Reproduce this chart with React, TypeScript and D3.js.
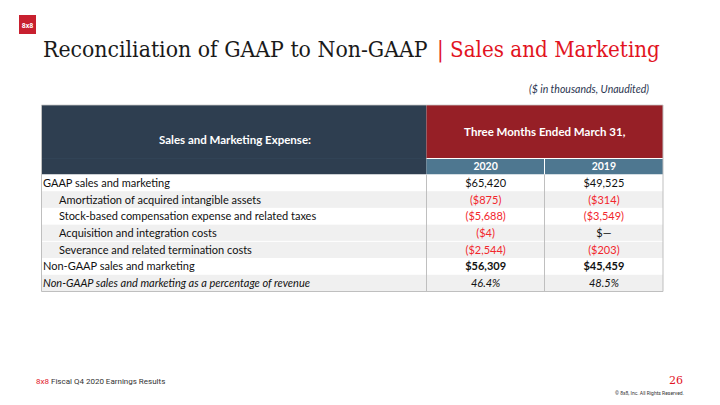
import React, { useLayoutEffect, useRef, useState } from "react";
import * as d3 from "d3";

const rowLabels = [
  "GAAP sales and marketing",
  "Amortization of acquired intangible assets",
  "Stock-based compensation expense and related taxes",
  "Acquisition and integration costs",
  "Severance and related termination costs",
  "Non-GAAP sales and marketing",
  "Non-GAAP sales and marketing as a percentage of revenue",
];
const rowIndent = [false, true, true, true, true, false, false];
const rowKind = ["total", "adj", "adj", "adj", "adj", "bold", "pct"];
const rowShade = [false, true, false, true, true, false, true];
const years = ["2020", "2019"];
const values2020 = [65420, -875, -5688, -4, -2544, 56309, 0.464];
const values2019 = [49525, -314, -3549, 0, -203, 45459, 0.485];

const W = 720;
const H = 405;
const FONT = "Lato, 'Open Sans', sans-serif";

const fmtNum = d3.format(",.0f");
const fmtPct = d3.format(".1%");
function fmt(v: number, kind: string) {
  if (kind === "pct") return fmtPct(v);
  if (v === 0) return "$—";
  if (v < 0) return `($${fmtNum(-v)})`;
  return `$${fmtNum(v)}`;
}

export default function App() {
  const tableLeft = 41.5;
  const col1 = 426.5;
  const col2 = 544.5;
  const tableRight = 663;
  const headTop = 105;
  const headMid = 158.5;
  const rowsTop = 174.5;
  const rowsBottom = 291.5;

  const blackRef = useRef<SVGTextElement>(null);
  const redRef = useRef<SVGTextElement>(null);
  const [sx, setSx] = useState<[number, number]>([1, 1]);
  useLayoutEffect(() => {
    const w1 = blackRef.current ? blackRef.current.getComputedTextLength() : 0;
    const w2 = redRef.current ? redRef.current.getComputedTextLength() : 0;
    if (w1 > 0 && w2 > 0) setSx([385 / w1, 223 / w2]);
  }, []);

  const y = d3
    .scaleBand<number>()
    .domain(d3.range(rowLabels.length))
    .range([rowsTop, rowsBottom])
    .paddingInner(0);
  const x = d3
    .scaleBand<string>()
    .domain(years)
    .range([col1, tableRight]);
  const series = [values2020, values2019];

  return (
    <svg
      width={W}
      height={H}
      style={{ position: "absolute", left: 0, top: 0, background: "#fff" }}
    >
      {/* logo */}
      <rect x={19} y={15} width={17} height={19} fill="#c8202f" />
      <text
        x={27.5}
        y={27.5}
        textAnchor="middle"
        fill="#fff"
        fontFamily="Roboto, sans-serif"
        fontWeight={700}
        fontSize={7}
      >
        8x8
      </text>

      {/* title */}
      <text
        ref={blackRef}
        transform={`translate(43,57) scale(${sx[0]},1)`}
        fontFamily="'DejaVu Serif', serif"
        fontSize={23}
        fill="#1a1a1a"
      >
        Reconciliation of GAAP to Non-GAAP
      </text>
      <text
        ref={redRef}
        transform={`translate(437,57) scale(${sx[1]},1)`}
        fontFamily="'DejaVu Serif', serif"
        fontSize={23}
        fill="#e2141f"
      >
        | Sales and Marketing
      </text>

      <text
        x={649}
        y={93}
        textAnchor="end"
        fontFamily={FONT}
        fontStyle="italic"
        fontSize={10.5}
        fill="#2b3550"
      >
        ($ in thousands, Unaudited)
      </text>

      {/* header */}
      <rect
        x={tableLeft}
        y={headTop}
        width={col1 - tableLeft}
        height={rowsTop - headTop}
        fill="#2e3e50"
      />
      <line
        x1={tableLeft}
        x2={col1}
        y1={headMid}
        y2={headMid}
        stroke="#34475a"
        strokeWidth={0.6}
      />
      <text
        x={(tableLeft + col1) / 2 + 1}
        y={144}
        textAnchor="middle"
        fontFamily={FONT}
        fontWeight={700}
        fontSize={11.5}
        fill="#fff"
      >
        Sales and Marketing Expense:
      </text>
      <rect
        x={col1}
        y={headTop}
        width={tableRight - col1}
        height={headMid - headTop}
        fill="#961f26"
      />
      <text
        x={(col1 + tableRight) / 2}
        y={136}
        textAnchor="middle"
        fontFamily={FONT}
        fontWeight={700}
        fontSize={11.5}
        fill="#fff"
      >
        Three Months Ended March 31,
      </text>
      {years.map((yr) => (
        <g key={yr}>
          <rect
            x={x(yr)!}
            y={headMid}
            width={x.bandwidth()}
            height={rowsTop - headMid}
            fill="#4e7790"
          />
          <text
            x={x(yr)! + x.bandwidth() / 2}
            y={170}
            textAnchor="middle"
            fontFamily={FONT}
            fontWeight={700}
            fontSize={10.5}
            fill="#fff"
          >
            {yr}
          </text>
        </g>
      ))}
      <line
        x1={col2}
        x2={col2}
        y1={headMid}
        y2={rowsTop}
        stroke="#fff"
        strokeWidth={1}
      />
      <line
        x1={col1}
        x2={tableRight}
        y1={headMid}
        y2={headMid}
        stroke="#fff"
        strokeWidth={1}
      />

      {/* rows */}
      {rowLabels.map((label, i) => {
        const top = y(i)!;
        const h = y.bandwidth();
        const cy = top + h / 2 + 4;
        const kind = rowKind[i];
        return (
          <g key={i}>
            <rect
              x={tableLeft}
              y={top}
              width={tableRight - tableLeft}
              height={h}
              fill={rowShade[i] ? "#f0f0f0" : "#fff"}
            />
            {i > 0 && rowShade[i] && rowShade[i - 1] && (
              <line
                x1={tableLeft}
                x2={tableRight}
                y1={top}
                y2={top}
                stroke="#fff"
                strokeWidth={1}
              />
            )}
            <text
              x={rowIndent[i] ? 59 : 43}
              y={cy}
              fontFamily={FONT}
              fontSize={11}
              fontStyle={kind === "pct" ? "italic" : "normal"}
              fill="#111"
            >
              {label}
            </text>
            {years.map((yr, j) => {
              const v = series[j][i];
              const neg = v < 0;
              return (
                <text
                  key={yr}
                  x={x(yr)! + x.bandwidth() / 2}
                  y={cy}
                  textAnchor="middle"
                  fontFamily={FONT}
                  fontSize={11}
                  fontWeight={kind === "bold" ? 700 : 400}
                  fontStyle={kind === "pct" ? "italic" : "normal"}
                  fill={neg ? "#f2262c" : "#111"}
                >
                  {fmt(v, kind)}
                </text>
              );
            })}
          </g>
        );
      })}

      {/* grid lines */}
      <line x1={col1} x2={col1} y1={rowsTop} y2={rowsBottom} stroke="#bfbfbf" strokeWidth={1} />
      <line x1={col2} x2={col2} y1={rowsTop} y2={rowsBottom} stroke="#bfbfbf" strokeWidth={1} />
      <line x1={tableLeft} x2={tableLeft} y1={headTop} y2={rowsBottom} stroke="#bfbfbf" strokeWidth={1} />
      <line x1={tableRight} x2={tableRight} y1={headTop} y2={rowsBottom} stroke="#bfbfbf" strokeWidth={1} />
      <line x1={tableLeft} x2={tableRight} y1={rowsBottom} y2={rowsBottom} stroke="#bfbfbf" strokeWidth={1} />
      <line x1={tableLeft} x2={tableRight} y1={headTop} y2={headTop} stroke="#c8c8c8" strokeWidth={0.8} />

      {/* footer */}
      <text x={36} y={384} fontFamily="Roboto, sans-serif" fontSize={8} fill="#333">
        <tspan fill="#e2141f">8x8</tspan> Fiscal Q4 2020 Earnings Results
      </text>
      <text
        x={683}
        y={384}
        textAnchor="end"
        fontFamily="'DejaVu Serif', serif"
        fontSize={11}
        fill="#e2141f"
      >
        26
      </text>
      <text
        x={684}
        y={394.5}
        textAnchor="end"
        fontFamily="Roboto, sans-serif"
        fontSize={5}
        fill="#333"
      >
        © 8x8, Inc. All Rights Reserved.
      </text>
    </svg>
  );
}
